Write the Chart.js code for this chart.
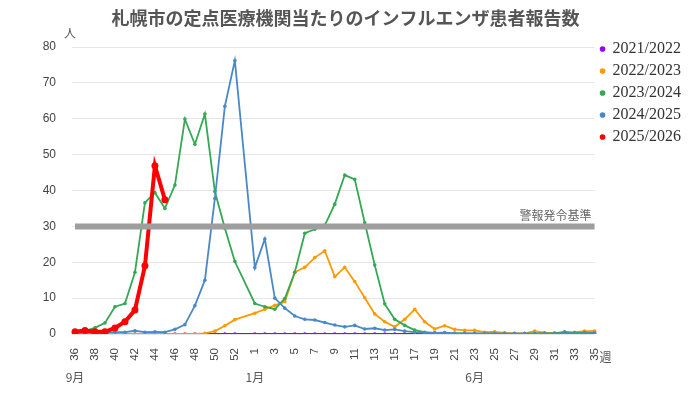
<!DOCTYPE html>
<html>
<head>
<meta charset="utf-8">
<script src="https://cdn.jsdelivr.net/npm/chart.js@4.4.0/dist/chart.umd.min.js"></script>
<style>
  html, body { margin: 0; padding: 0; background: #fff; }
</style>
</head>
<body>
<canvas id="myChart" width="700" height="394"></canvas>
<script>
// week numbers (season runs from week 36 to week 35, week 53 only in 2025/2026)
const weeks = ['36','37','38','39','40','41','42','43','44','45','46','47','48','49','50','51','52','53',
  '1','2','3','4','5','6','7','8','9','10','11','12','13','14','15','16','17','18','19','20',
  '21','22','23','24','25','26','27','28','29','30','31','32','33','34','35'];

const seasons = ['2021/2022', '2022/2023', '2023/2024', '2024/2025', '2025/2026'];

// reports per sentinel
const s2122 = [0,0,0,0,0,0,0,0,0,0,0,0,0,0,0,0,0,null,
  0,0,0,0,0,0,0,0,0,0,0,0,0,0,0,0,0,0,0,0,
  0,0,0,0,0,0,0,0,0,0,0,0,0,0,0];
const s2223 = [0,0,0,0,0,0,0,0,0,0,0,0,0,0.2,0.8,2.3,4.0,null,
  5.8,6.9,8.0,9.0,17.2,18.6,21.3,23.2,16.0,18.6,14.6,10.1,5.6,3.4,2.0,4.1,6.9,3.4,1.4,2.3,
  1.3,1.0,1.0,0.5,0.6,0.3,0.2,0.2,0.8,0.4,0.3,0.4,0.5,0.8,0.8];
const s2324 = [0.6,0.9,1.7,3.1,7.6,8.5,17.2,36.6,39.4,35.0,41.5,59.9,52.9,61.3,39.7,29.5,20.2,null,
  8.5,7.6,6.9,9.9,17.2,28.1,29.2,30.3,36.2,44.3,43.1,31.0,19.2,8.4,4.1,2.4,1.1,0.5,0.3,0.2,
  0.2,0.2,0.1,0.2,0.1,0.1,0.1,0.1,0.2,0.2,0.2,0.6,0.3,0.4,0.3];
const s2425 = [0.3,0.3,0.3,0.4,0.5,0.5,0.9,0.5,0.6,0.5,1.3,2.6,7.9,15.0,37.8,63.5,76.2,null,
  18.5,26.5,10.0,7.2,5.0,4.1,3.9,3.2,2.5,2.0,2.4,1.4,1.6,1.1,1.3,0.8,0.5,0.3,0.3,0.4,
  0.2,0.2,0.2,0.1,0.2,0.1,0.1,0.1,0.1,0.1,0.1,0.2,0.2,0.2,0.2];
const s2526 = [0.6,1.0,0.6,0.6,1.7,3.4,6.7,19.0,46.9,37.4];

const alertLevel = 30;
const alertLine = weeks.map(() => alertLevel);

const yTicks = [0, 10, 20, 30, 40, 50, 60, 70, 80];

const colors = ['#9900ff', '#ff9900', '#34a853', '#4a89c8', '#ff0000'];
const seriesData = [s2122, s2223, s2324, s2425, s2526];

const datasets = seriesData.map((d, i) => {
  const isCurrent = i === 4;
  return {
    label: seasons[i],
    data: d,
    borderColor: colors[i],
    backgroundColor: colors[i],
    pointBackgroundColor: colors[i],
    pointBorderColor: colors[i],
    borderWidth: isCurrent ? 4 : 1.8,
    pointRadius: isCurrent ? 3.5 : 1.8,
    pointBorderWidth: 0,
    pointStyle: 'circle',
    tension: 0,
    spanGaps: true,
    // later seasons on top
    order: 10 - i * 2
  };
});

// the alert threshold drawn as a flat thick line
datasets.push({
  label: '警報発令基準',
  data: alertLine,
  borderColor: '#9e9e9e',
  backgroundColor: '#9e9e9e',
  borderWidth: 6,
  pointRadius: 0,
  order: 1
});

// extra texts: unit, month marks, week mark, alert label
const extraText = {
  id: 'extraText',
  afterDraw(chart) {
    const ctx = chart.ctx;
    const x = chart.scales.x;
    const y = chart.scales.y;
    ctx.save();
    ctx.fillStyle = '#555';
    ctx.font = '12px "Noto Sans CJK JP"';
    ctx.textBaseline = 'middle';

    ctx.textAlign = 'center';
    ctx.fillText('人', 70, 33);

    const months = [['9月', '36'], ['1月', '1'], ['6月', '23']];
    months.forEach(m => {
      ctx.fillText(m[0], x.getPixelForValue(weeks.indexOf(m[1])), 377);
    });

    ctx.textAlign = 'left';
    ctx.fillText('週', x.right + 5, 357);

    ctx.textAlign = 'right';
    ctx.fillStyle = '#666';
    ctx.fillText('警報発令基準', x.right - 3, y.getPixelForValue(alertLevel) - 11);
    ctx.restore();
  }
};

const ctx = document.getElementById('myChart').getContext('2d');
const myChart = new Chart(ctx, {
  type: 'line',
  data: { labels: weeks, datasets: datasets },
  options: {
    responsive: false,
    animation: false,
    layout: { padding: { left: 0, right: 9, top: 0, bottom: 0 } },
    scales: {
      x: {
        grid: { display: false },
        border: { display: false },
        ticks: {
          autoSkip: false,
          minRotation: 90,
          maxRotation: 90,
          padding: 6,
          color: '#444',
          font: { family: 'Liberation Sans', size: 11.5 },
          callback: (val, i) => (i % 2 === 0 ? weeks[i] : '')
        },
        afterFit: scale => { scale.height = 60; }
      },
      y: {
        min: 0,
        max: 80,
        afterBuildTicks: scale => { scale.ticks = yTicks.map(v => ({ value: v })); },
        grid: { color: '#e6e6e6', tickLength: 3, drawTicks: true },
        border: { display: false },
        ticks: {
          padding: 16,
          color: '#444',
          font: { family: 'Liberation Sans', size: 12 }
        },
        afterFit: scale => { scale.width = 75; }
      }
    },
    plugins: {
      title: {
        display: true,
        text: '札幌市の定点医療機関当たりのインフルエンザ患者報告数',
        color: '#555',
        font: { family: 'Noto Sans CJK JP', size: 18, weight: 'bold' },
        padding: { top: 7, bottom: 18.4 }
      },
      legend: {
        position: 'right',
        align: 'start',
        // empty title only used to push the items down
        title: { display: true, text: '', font: { size: 12 }, padding: { top: 10, bottom: 10.6 } },
        labels: {
          usePointStyle: true,
          pointStyle: 'circle',
          boxWidth: 4,
          boxHeight: 4,
          padding: 6,
          color: '#333',
          font: { family: 'Liberation Serif', size: 16 },
          filter: item => item.datasetIndex < 5,
          sort: (a, b) => a.datasetIndex - b.datasetIndex
        }
      },
      tooltip: { enabled: false }
    }
  },
  plugins: [extraText]
});
</script>
</body>
</html>
